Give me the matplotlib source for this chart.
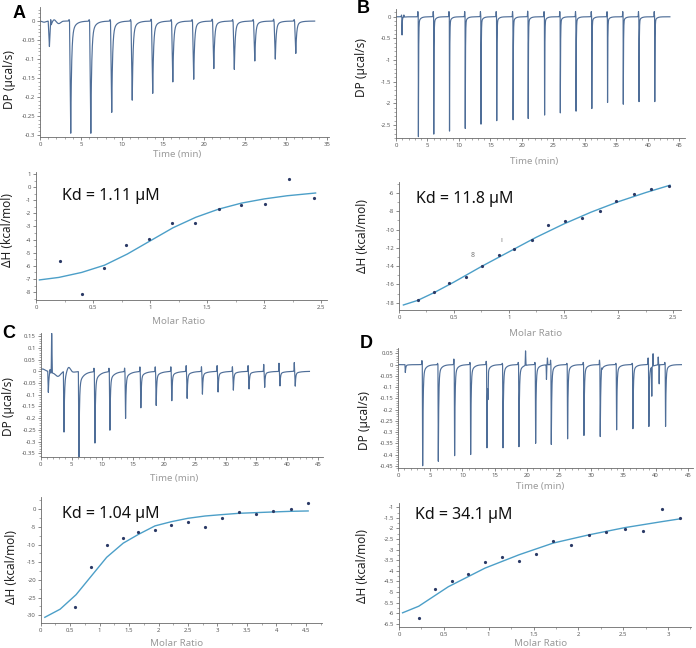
import numpy as np
import matplotlib
matplotlib.use('Agg')
import matplotlib.pyplot as plt
from matplotlib.ticker import MultipleLocator, AutoMinorLocator, FuncFormatter

plt.rcParams['font.family'] = ['Noto Sans', 'DejaVu Sans']
plt.rcParams['axes.unicode_minus'] = False

W, H = 696, 648

# ---------------- DATA ----------------
# Panel A - raw thermogram (injection times, min; peak DP, ucal/s)
A_inj_t = [1.15, 3.75, 6.2, 8.75, 11.25, 13.75, 16.2, 18.75, 21.2, 23.7, 26.2, 28.7, 31.2]
A_inj_dp = [-0.067, -0.295, -0.295, -0.24, -0.208, -0.19, -0.16, -0.153, -0.125, -0.127, -0.105, -0.1, -0.085]
A_pre = [0.0, 0.004, 0.004, 0.004, 0.004, 0.005, 0.004, 0.004, 0.005, 0.004, 0.004, 0.005, 0.004]
A_ev_t = [0.5, 1.3, 1.7, 2.3]
A_ev_a = [-0.003, 0.022, 0.006, -0.006]
A_ev_w = [0.3, 0.04, 0.25, 0.3]
A_t_end = 33.5
# Panel A - integrated heats
A_ratio = [0.21, 0.40, 0.60, 0.79, 0.99, 1.19, 1.39, 1.60, 1.80, 2.01, 2.22, 2.44]
A_dH = [-5.6, -8.14, -6.18, -4.43, -3.97, -2.76, -2.7, -1.69, -1.36, -1.28, 0.59, -0.85]
A_fit_x = [0.03, 0.2, 0.4, 0.6, 0.8, 1.0, 1.2, 1.4, 1.6, 1.8, 2.0, 2.2, 2.45]
A_fit_y = [-7.07, -6.88, -6.5, -5.95, -5.1, -4.1, -3.1, -2.3, -1.68, -1.22, -0.9, -0.66, -0.45]
A_kd = "Kd = 1.11 µM"

# Panel B
B_inj_t = [0.96, 3.56, 6.0, 8.5, 11.0, 13.5, 16.0, 18.6, 21.0, 23.6, 26.1, 28.6, 31.1, 33.6, 36.1, 38.6, 41.1]
B_inj_dp = [-0.42, -2.77, -2.71, -2.64, -2.58, -2.48, -2.4, -2.38, -2.35, -2.27, -2.22, -2.18, -2.12,
            -1.98, -2.02, -1.96, -1.96]
B_pre = [0.04, 0.12, 0.12, 0.12, 0.12, 0.12, 0.12, 0.12, 0.13, 0.12, 0.12, 0.12, 0.12, 0.12, 0.12, 0.12, 0.12]
B_ev_t = [1.25]
B_ev_a = [0.05]
B_ev_w = [0.04]
B_t_end = 43.5
B_ratio = [0.17, 0.32, 0.46, 0.61, 0.76, 0.91, 1.05, 1.21, 1.36, 1.51, 1.67, 1.83, 1.98, 2.14, 2.30, 2.46]
B_dH = [-17.71, -16.87, -15.8, -15.16, -14.0, -12.8, -12.1, -11.1, -9.5, -9.1, -8.76, -7.96, -6.87,
        -6.07, -5.56, -5.24]
B_fit_x = [0.04, 0.17, 0.32, 0.5, 0.75, 1.0, 1.25, 1.5, 1.75, 2.0, 2.25, 2.47]
B_fit_y = [-18.25, -17.75, -16.9, -15.75, -14.05, -12.45, -10.85, -9.4, -8.1, -6.95, -5.95, -5.15]
B_kd = "Kd = 11.8 µM"
B_notes = ["8", "ı"]
B_notes_x = [0.675, 0.93]
B_notes_y = [-12.87, -11.23]

# Panel C
C_inj_t = [1.24, 3.78, 6.21, 8.8, 11.23, 13.77, 16.25, 18.74, 21.27, 23.76, 26.24, 28.78, 31.26,
           33.8, 36.34, 38.82, 41.3]
C_inj_dp = [-0.09, -0.26, -0.37, -0.305, -0.25, -0.2, -0.155, -0.145, -0.125, -0.115, -0.097,
            -0.088, -0.08, -0.075, -0.068, -0.062, -0.063]
C_pre = [0.0, 0.0, 0.0, 0.015, 0.015, 0.015, 0.02, 0.02, 0.02, 0.025, 0.02, 0.025, 0.02, 0.025,
         0.03, 0.035, 0.038]
C_ev_t = [0.3, 1.5, 1.78, 2.8, 4.5]
C_ev_a = [0.01, 0.02, 0.17, -0.02, 0.03]
C_ev_w = [0.5, 0.08, 0.05, 0.6, 0.45]
C_t_end = 43.6
C_ratio = [0.58, 0.85, 1.12, 1.39, 1.66, 1.94, 2.22, 2.50, 2.79, 3.08, 3.37, 3.66, 3.95, 4.25, 4.54]
C_dH = [-27.7, -16.4, -10.0, -8.1, -6.4, -6.0, -4.5, -3.5, -5.1, -2.45, -0.85, -1.3, -0.38, 0.19, 1.89]
C_fit_x = [0.07, 0.33, 0.6, 0.85, 1.12, 1.4, 1.66, 1.94, 2.22, 2.5, 2.79, 3.08, 3.37, 3.66, 3.95, 4.25, 4.54]
C_fit_y = [-30.6, -28.3, -24.2, -19.1, -13.6, -9.6, -7.1, -4.7, -3.5, -2.55, -1.9, -1.5, -1.13,
           -0.94, -0.75, -0.57, -0.47]
C_kd = "Kd = 1.04 µM"

# Panel D
D_inj_t = [1.14, 3.83, 6.26, 8.79, 11.28, 13.81, 16.3, 18.78, 21.37, 23.8, 26.33, 28.87, 31.4,
           33.94, 36.47, 38.95, 41.54]
D_inj_dp = [-0.035, -0.45, -0.43, -0.405, -0.4, -0.37, -0.37, -0.365, -0.35, -0.355, -0.33,
            -0.315, -0.32, -0.29, -0.285, -0.275, -0.275]
D_pre = [0.0, 0.018, 0.006, 0.025, 0.01, 0.015, 0.006, 0.01, 0.01, 0.02, 0.006, 0.01, 0.02,
         0.006, 0.006, 0.03, 0.01]
D_ev_t = [13.98, 19.8, 23.05, 23.2, 31.6, 39.4, 39.6, 40.4, 40.55]
D_ev_a = [-0.1, 0.065, -0.065, 0.03, 0.02, -0.13, 0.055, 0.035, -0.085]
D_ev_w = [0.04, 0.04, 0.035, 0.035, 0.05, 0.03, 0.03, 0.03, 0.03]
D_t_end = 44.0
D_ratio = [0.22, 0.405, 0.59, 0.773, 0.96, 1.15, 1.34, 1.53, 1.72, 1.92, 2.12, 2.31, 2.52, 2.72, 2.93, 3.13]
D_dH = [-6.22, -4.86, -4.48, -4.15, -3.59, -3.37, -3.55, -3.19, -2.57, -2.77, -2.33, -2.16, -2.03,
        -2.13, -1.09, -1.52]
D_fit_x = [0.04, 0.22, 0.55, 0.96, 1.34, 1.72, 2.12, 2.52, 2.93, 3.13]
D_fit_y = [-5.98, -5.67, -4.75, -3.87, -3.24, -2.69, -2.30, -1.96, -1.68, -1.55]
D_kd = "Kd = 34.1 µM"

# ---------------- HELPERS ----------------
TRACE_C = '#4f6e98'
FIT_C = '#4c9fc8'
PT_C = '#2b3a66'
AX_C = '#6a6a6a'


def build_trace(t_end, inj_t, inj_dp, pre, ev_t, ev_a, ev_w, ramp, tf, ts, fs):
    t = np.union1d(np.linspace(0, t_end, 9000), np.array(inj_t))
    y = np.zeros_like(t)
    for ti, d, p in zip(inj_t, inj_dp, pre):
        dt = t - ti
        left = (dt > -ramp) & (dt <= 0)
        y[left] += d * (dt[left] + ramp) / ramp
        right = dt > 0
        y[right] += d * ((1 - fs) * np.exp(-dt[right] / tf) + fs * np.exp(-dt[right] / ts))
        y += p * np.exp(-((dt + ramp + 0.06) / 0.035) ** 2)
    for et, ea, ew in zip(ev_t, ev_a, ev_w):
        y += ea * np.exp(-((t - et) / ew) ** 2)
    return t, y


def fmt(v, pos=None):
    if abs(v) < 1e-9:
        return '0'
    return f"{round(v, 4):g}"


def px_axes(fig, l, t, r, b):
    return fig.add_axes([l / W, 1 - b / H, (r - l) / W, (b - t) / H])


def style(ax, xmaj, ymaj, xmin_n, ymin_n):
    for s in ['top', 'right']:
        ax.spines[s].set_visible(False)
    for s in ['left', 'bottom']:
        ax.spines[s].set_color(AX_C)
        ax.spines[s].set_linewidth(0.6)
    ax.xaxis.set_major_locator(MultipleLocator(xmaj))
    ax.yaxis.set_major_locator(MultipleLocator(ymaj))
    ax.xaxis.set_minor_locator(AutoMinorLocator(xmin_n))
    ax.yaxis.set_minor_locator(AutoMinorLocator(ymin_n))
    ax.xaxis.set_major_formatter(FuncFormatter(fmt))
    ax.yaxis.set_major_formatter(FuncFormatter(fmt))
    ax.tick_params(which='major', length=2.2, width=0.5, labelsize=4.3, pad=1.2, colors='#5a5a5a')
    ax.tick_params(which='minor', length=1.2, width=0.4, colors=AX_C)
    ax.patch.set_alpha(0)


def set_labels(ax, box, xl, xl_px, yl, yl_px):
    l, t, r, b = box
    ax.set_xlabel(xl, fontsize=7, color='#9a9a9a')
    ax.xaxis.set_label_coords((xl_px[0] - l) / (r - l), (b - xl_px[1]) / (b - t))
    ax.xaxis.label.set_va('center')
    ax.set_ylabel(yl, fontsize=8.5, color='#222222')
    ax.yaxis.set_label_coords((yl_px[0] - l) / (r - l), (b - yl_px[1]) / (b - t))
    ax.yaxis.label.set_va('center')


fig = plt.figure(figsize=(W / 100, H / 100), dpi=100)

# ---------- raw thermograms ----------
raw_specs = [
    # box(l,t,r,b), xlim, ylim, ymaj, trace args, xlabel px, ylabel px
    ((40, 7, 328.6, 137), (0, 35.2), (-0.305, 0.037), 0.05,
     (A_t_end, A_inj_t, A_inj_dp, A_pre, A_ev_t, A_ev_a, A_ev_w, 0.15, 0.1, 0.45, 0.13),
     (177, 155), (10, 80)),
    ((396, 9, 685, 138), (0, 45.9), (-2.8, 0.18), 0.5,
     (B_t_end, B_inj_t, B_inj_dp, B_pre, B_ev_t, B_ev_a, B_ev_w, 0.03, 0.035, 0.3, 0.05),
     (534, 161), (361, 68)),
    ((40.7, 332.7, 323, 457), (0, 45.8), (-0.366, 0.165), 0.05,
     (C_t_end, C_inj_t, C_inj_dp, C_pre, C_ev_t, C_ev_a, C_ev_w, 0.1, 0.08, 0.7, 0.15),
     (174, 478), (9, 407)),
    ((398, 348, 693, 468), (0, 45.8), (-0.46, 0.074), 0.05,
     (D_t_end, D_inj_t, D_inj_dp, D_pre, D_ev_t, D_ev_a, D_ev_w, 0.06, 0.07, 0.45, 0.1),
     (540, 487), (364, 421)),
]
for box, xlim, ylim, ymaj, targs, xlp, ylp in raw_specs:
    ax = px_axes(fig, *box)
    t, y = build_trace(*targs)
    ax.plot(t, y, color=TRACE_C, lw=0.85)
    ax.set_xlim(*xlim)
    ax.set_ylim(*ylim)
    style(ax, 5, ymaj, 5, 5)
    set_labels(ax, box, 'Time (min)', xlp, 'DP (µcal/s)', ylp)

# ---------- integrated heats ----------
heat_specs = [
    ((36, 172, 327, 300), (0, 2.55), (-8.6, 1.15), 0.5, 1, A_ratio, A_dH, A_fit_x, A_fit_y,
     A_kd, (62, 196), (179, 321), (8, 230)),
    ((399, 182, 681, 310), (0, 2.57), (-18.8, -4.8), 0.5, 2, B_ratio, B_dH, B_fit_x, B_fit_y,
     B_kd, (416, 199), (536, 333), (362, 236)),
    ((40.7, 497.3, 321.7, 623.3), (0, 4.77), (-32.3, 3.4), 0.5, 5, C_ratio, C_dH, C_fit_x, C_fit_y,
     C_kd, (62, 514), (177, 643), (12, 567)),
    ((399, 503, 691, 627), (0, 3.256), (-6.65, -0.8), 0.5, 0.5, D_ratio, D_dH, D_fit_x, D_fit_y,
     D_kd, (415, 515), (541, 643), (362, 566)),
]
heat_axes = []
for box, xlim, ylim, xmaj, ymaj, rx, ry, fx, fy, kd, kdp, xlp, ylp in heat_specs:
    ax = px_axes(fig, *box)
    ax.plot(fx, fy, color=FIT_C, lw=1.0)
    ax.plot(rx, ry, 'o', ms=2.3, color=PT_C, mec='none')
    ax.set_xlim(*xlim)
    ax.set_ylim(*ylim)
    style(ax, xmaj, ymaj, 2, 2)
    set_labels(ax, box, 'Molar Ratio', xlp, 'ΔH (kcal/mol)', ylp)
    fig.text(kdp[0] / W, 1 - kdp[1] / H, kd, fontsize=11.5, ha='left', va='center', color='#111111')
    heat_axes.append(ax)

for s, x, y in zip(B_notes, B_notes_x, B_notes_y):
    heat_axes[1].text(x, y, s, fontsize=5, color='#777777', ha='center', va='center')

# ---------- panel letters ----------
for letter, (lx, ly) in zip('ABCD', [(19, 13.5), (363, 8.5), (9, 334), (366, 343)]):
    fig.text(lx / W, 1 - ly / H, letter, fontsize=13, fontweight='bold', ha='center', va='center',
             family=['Liberation Sans', 'DejaVu Sans'])

fig.savefig('out.png', dpi=100)
